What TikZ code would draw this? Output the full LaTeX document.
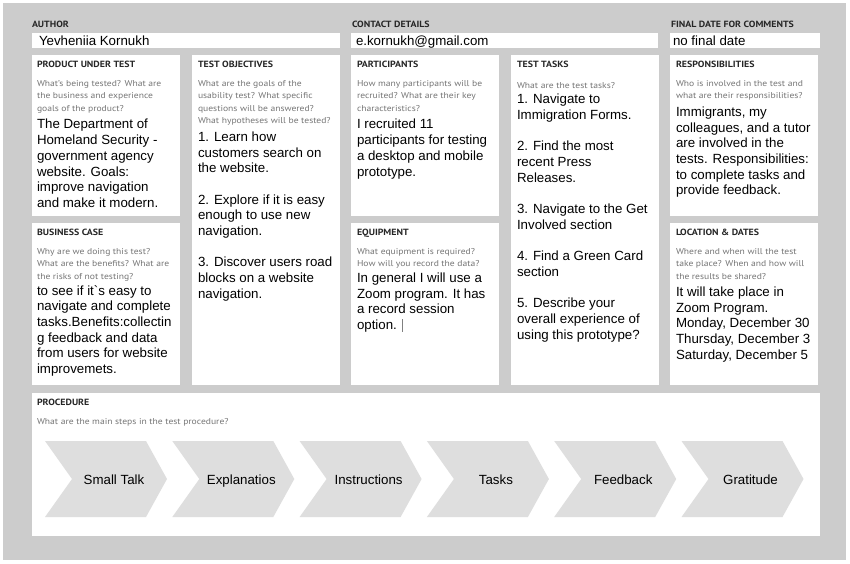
\documentclass[tikz,border=0pt]{standalone}
\usepackage{fontspec}
\setmainfont{Liberation Sans}
\newfontfamily\canvasfont[FakeStretch=1.13]{PT Sans}
\newfontfamily\titlefont[FakeStretch=1.1]{PT Sans Bold}
\usepackage{tikz}
\usetikzlibrary{positioning}
\definecolor{canvasgray}{RGB}{204,204,204}
\definecolor{stepgray}{RGB}{222,222,222}
\definecolor{hintgray}{RGB}{118,118,118}

\begin{document}
\begin{tikzpicture}[x=1pt, y=1pt, line join=bevel]
	\pgfsetlinewidth{0pt}

	\tikzstyle{box} = [fill=white, anchor=north west, inner sep=0pt, minimum width=148pt, minimum height=161pt];
	\tikzstyle{field} = [fill=white, anchor=north west, inner sep=0pt, minimum height=15pt];
	\tikzstyle{title} = [anchor=base west, inner sep=0pt, font=\titlefont\fontsize{9}{10}\selectfont, text=black!85];
	\tikzstyle{hint} = [anchor=north west, inner sep=0pt, align=left, font=\canvasfont\fontsize{8.5}{12.5}\selectfont, text=hintgray, execute at begin node=\strut, execute at end node=\strut];
	\tikzstyle{answer} = [anchor=north west, inner sep=0pt, align=left, font=\fontsize{13.3}{15.7}\selectfont, execute at begin node=\strut];
	\tikzstyle{entry} = [anchor=base west, inner sep=0pt, font=\fontsize{13.3}{15.7}\selectfont];
	\tikzstyle{chevron} = [fill=stepgray];
	\tikzstyle{steplabel} = [anchor=base, inner sep=0pt, font=\fontsize{13.3}{15.7}\selectfont];

	\useasboundingbox (0,0) rectangle (850,-563);
	\node[fill=canvasgray, anchor=north west, inner sep=0pt, minimum width=843pt, minimum height=557pt] (canvas) at (3,-3) {};

	\node[title] (author-t) at (32,-27.7) {AUTHOR};
	\node[title] (contact-t) at (352,-27.7) {CONTACT DETAILS};
	\node[title] (final-t) at (671,-27.7) {FINAL DATE FOR COMMENTS};
	\node[field, minimum width=308pt] (author) at (32,-33) {};
	\node[field, minimum width=307pt] (contact) at (351,-33) {};
	\node[field, minimum width=150pt] (final) at (670,-33) {};
	\node[entry] (author-a) at ([shift={(7,-12.3)}]author.north west) {Yevheniia Kornukh};
	\node[entry] (contact-a) at ([shift={(5,-12.3)}]contact.north west) {e.kornukh@gmail.com};
	\node[entry] (final-a) at ([shift={(3,-12.3)}]final.north west) {no final date};

	\node[box] (prod) at (32,-55) {};
	\node[title] (prod-t) at ([shift={(5,-12.3)}]prod.north west) {PRODUCT UNDER TEST};
	\node[hint, below=12.7pt of prod-t.base west, anchor=north west] (prod-q) {What’s being tested? What are\\the business and experience\\goals of the product?};
	\node[answer, below=4.5pt of prod-q.south west, anchor=north west] (prod-a) {The Department of\\Homeland Security -\\government agency\\website. Goals:\\improve navigation\\and make it modern.};

	\node[box, minimum height=330pt] (goal) at (192,-55) {};
	\node[title] (goal-t) at ([shift={(6,-12.3)}]goal.north west) {TEST OBJECTIVES};
	\node[hint, below=12.7pt of goal-t.base west, anchor=north west] (goal-q) {What are the goals of the\\usability test? What specific\\questions will be answered?\\What hypotheses will be tested?};
	\node[answer, below=4.5pt of goal-q.south west, anchor=north west] (goal-a) {1. Learn how\\customers search on\\the website.\\[15.7pt]2. Explore if it is easy\\enough to use new\\navigation.\\[15.7pt]3. Discover users road\\blocks on a website\\navigation.};

	\node[box] (part) at (351,-55) {};
	\node[title] (part-t) at ([shift={(6,-12.3)}]part.north west) {PARTICIPANTS};
	\node[hint, below=12.7pt of part-t.base west, anchor=north west] (part-q) {How many participants will be\\recruited? What are their key\\characteristics?};
	\node[answer, below=4.5pt of part-q.south west, anchor=north west] (part-a) {I recruited 11\\participants for testing\\a desktop and mobile\\prototype.};

	\node[box, minimum height=330pt] (task) at (511,-55) {};
	\node[title] (task-t) at ([shift={(6,-12.3)}]task.north west) {TEST TASKS};
	\node[hint, below=12.7pt of task-t.base west, anchor=north west] (task-q) {What are the test tasks?};
	\node[answer, below=1.5pt of task-q.south west, anchor=north west] (task-a) {1. Navigate to\\Immigration Forms.\\[15.7pt]2. Find the most\\recent Press\\Releases.\\[15.7pt]3. Navigate to the Get\\Involved section\\[15.7pt]4. Find a Green Card\\section\\[15.7pt]5. Describe your\\overall experience of\\using this prototype?};

	\node[box] (resp) at (670,-55) {};
	\node[title] (resp-t) at ([shift={(6,-12.3)}]resp.north west) {RESPONSIBILITIES};
	\node[hint, below=12.7pt of resp-t.base west, anchor=north west] (resp-q) {Who is involved in the test and\\what are their responsibilities?};
	\node[answer, below=4.5pt of resp-q.south west, anchor=north west] (resp-a) {Immigrants, my\\colleagues, and a tutor\\are involved in the\\tests. Responsibilities:\\to complete tasks and\\provide feedback.};

	\node[box, minimum height=162pt] (case) at (32,-223) {};
	\node[title] (case-t) at ([shift={(5,-12.3)}]case.north west) {BUSINESS CASE};
	\node[hint, below=12.7pt of case-t.base west, anchor=north west] (case-q) {Why are we doing this test?\\What are the benefits? What are\\the risks of not testing?};
	\node[answer, below=2.5pt of case-q.south west, anchor=north west] (case-a) {to see if it\textasciigrave s easy to\\navigate and complete\\tasks.Benefits:collectin\\g feedback and data\\from users for website\\improvemets.};

	\node[box, minimum height=162pt] (equip) at (351,-223) {};
	\node[title] (equip-t) at ([shift={(6,-12.3)}]equip.north west) {EQUIPMENT};
	\node[hint, below=12.7pt of equip-t.base west, anchor=north west] (equip-q) {What equipment is required?\\How will you record the data?};
	\node[answer, below=2.5pt of equip-q.south west, anchor=north west] (equip-a) {In general I will use a\\Zoom program. It has\\a record session\\option. {\color{gray}\rule[-2pt]{0.6pt}{13pt}}};

	\node[box, minimum height=162pt] (place) at (670,-223) {};
	\node[title] (place-t) at ([shift={(6,-12.3)}]place.north west) {LOCATION \& DATES};
	\node[hint, below=12.7pt of place-t.base west, anchor=north west] (place-q) {Where and when will the test\\take place? When and how will\\the results be shared?};
	\node[answer, below=4pt of place-q.south west, anchor=north west] (place-a) {It will take place in\\Zoom Program.\\Monday, December 30\\Thursday, December 3\\Saturday, December 5};

	\node[box, minimum width=788pt, minimum height=143pt] (proc) at (32,-393) {};
	\node[title] (proc-t) at ([shift={(5,-12.7)}]proc.north west) {PROCEDURE};
	\node[hint, below=10pt of proc-t.base west, anchor=north west] (proc-q) {What are the main steps in the test procedure?};

	\foreach \s [count=\i from 0] in {Small Talk, Explanatios, Instructions, Tasks, Feedback, Gratitude} {
		\pgfmathsetmacro{\xl}{45+127.3*\i}
		\fill[chevron] (\xl,-441) -- ++(101,0) -- ++(21,-38) -- ++(-21,-38) -- ++(-101,0) -- ++(27,38) -- cycle;
		\node[steplabel] (step\i) at (\xl+69,-484.5) {\s};
	}
\end{tikzpicture}
\end{document}
